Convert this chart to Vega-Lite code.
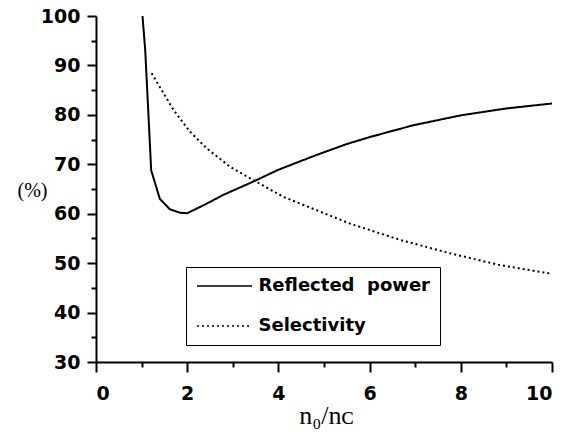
{
  "$schema": "https://vega.github.io/schema/vega-lite/v6.json",
  "autosize": {"type": "none"},
  "width": 456,
  "height": 346,
  "padding": {"left": 96, "top": 16, "right": 23, "bottom": 72},
  "background": "white",
  "config": {
    "view": {"stroke": null},
    "axis": {
      "domainColor": "black", "domainWidth": 2, "tickColor": "black", "tickWidth": 2,
      "labelColor": "black", "labelFont": "DejaVu Sans", "labelFontWeight": "bold", "labelFontSize": 19,
      "grid": false, "titleColor": "black"
    }
  },
  "data": {"values": [
    {"r": 1.02, "v": 100, "s": "Reflected  power"},
    {"r": 1.08, "v": 93, "s": "Reflected  power"},
    {"r": 1.15, "v": 80, "s": "Reflected  power"},
    {"r": 1.21, "v": 68.8, "s": "Reflected  power"},
    {"r": 1.4, "v": 63.0, "s": "Reflected  power"},
    {"r": 1.62, "v": 60.9, "s": "Reflected  power"},
    {"r": 1.84, "v": 60.2, "s": "Reflected  power"},
    {"r": 2.0, "v": 60.1, "s": "Reflected  power"},
    {"r": 2.4, "v": 61.9, "s": "Reflected  power"},
    {"r": 2.79, "v": 63.8, "s": "Reflected  power"},
    {"r": 3.45, "v": 66.5, "s": "Reflected  power"},
    {"r": 4.0, "v": 68.9, "s": "Reflected  power"},
    {"r": 4.84, "v": 71.9, "s": "Reflected  power"},
    {"r": 5.5, "v": 74.1, "s": "Reflected  power"},
    {"r": 6.0, "v": 75.5, "s": "Reflected  power"},
    {"r": 6.96, "v": 77.9, "s": "Reflected  power"},
    {"r": 8.0, "v": 79.9, "s": "Reflected  power"},
    {"r": 9.0, "v": 81.3, "s": "Reflected  power"},
    {"r": 10.0, "v": 82.3, "s": "Reflected  power"},
    {"r": 1.22, "v": 88.4, "s": "Selectivity"},
    {"r": 1.7, "v": 81.0, "s": "Selectivity"},
    {"r": 2.06, "v": 76.6, "s": "Selectivity"},
    {"r": 2.43, "v": 73.2, "s": "Selectivity"},
    {"r": 2.94, "v": 69.5, "s": "Selectivity"},
    {"r": 3.45, "v": 66.8, "s": "Selectivity"},
    {"r": 4.11, "v": 63.4, "s": "Selectivity"},
    {"r": 4.84, "v": 60.7, "s": "Selectivity"},
    {"r": 5.57, "v": 58.0, "s": "Selectivity"},
    {"r": 6.67, "v": 54.7, "s": "Selectivity"},
    {"r": 7.76, "v": 52.0, "s": "Selectivity"},
    {"r": 8.86, "v": 49.6, "s": "Selectivity"},
    {"r": 9.96, "v": 47.9, "s": "Selectivity"}
  ]},
  "layer": [
    {
      "mark": {"type": "line", "color": "black", "strokeWidth": 2},
      "encoding": {
        "x": {"field": "r", "type": "quantitative", "scale": {"domain": [0, 10], "nice": false, "zero": false},
          "axis": {"orient": "bottom", "values": [0, 2, 4, 6, 8, 10], "tickSize": 10, "labelPadding": 12,
            "title": "n₀/nᴄ", "titleFont": "Liberation Serif", "titleFontSize": 26, "titleFontWeight": "normal",
            "titleX": 230, "titleY": 61, "titleAlign": "center", "titleBaseline": "alphabetic"}},
        "y": {"field": "v", "type": "quantitative", "scale": {"domain": [30, 100], "nice": false, "zero": false},
          "axis": {"orient": "left", "values": [30, 40, 50, 60, 70, 80, 90, 100], "tickSize": 9, "labelPadding": 7,
            "title": "(%)", "titleFont": "Liberation Serif", "titleFontSize": 20, "titleFontWeight": "normal",
            "titleAngle": 0, "titleX": -64, "titleY": 174, "titleAlign": "center", "titleBaseline": "middle"}},
        "strokeDash": {"field": "s", "type": "nominal",
          "scale": {"domain": ["Reflected  power", "Selectivity"], "range": [[1, 0], [2, 3]]},
          "legend": {"title": null, "orient": "none", "legendX": 90, "legendY": 251,
            "symbolType": "M-5.5,0H5.5", "symbolSize": 100, "symbolOffset": 19.5, "symbolStrokeColor": "black", "symbolStrokeWidth": 1.5,
            "labelFont": "DejaVu Sans", "labelFontWeight": "bold", "labelFontSize": 18, "labelColor": "black",
            "labelOffset": 25, "rowPadding": 22, "padding": 10, "strokeColor": "black", "labelLimit": 300,
            "labelExpr": "replace(datum.label, '  ', '\u00a0\u00a0')"}}
      }
    },
    {
      "mark": {"type": "line", "opacity": 0},
      "encoding": {
        "x": {"field": "r", "type": "quantitative", "scale": {"domain": [0, 10], "nice": false, "zero": false},
          "axis": {"orient": "bottom", "values": [1, 3, 5, 7, 9], "tickSize": 5, "labels": false, "domain": false, "title": null}},
        "y": {"field": "v", "type": "quantitative", "scale": {"domain": [30, 100], "nice": false, "zero": false},
          "axis": {"orient": "left", "values": [35, 45, 55, 65, 75, 85, 95], "tickSize": 5, "labels": false, "domain": false, "title": null}},
        "detail": {"field": "s", "type": "nominal"}
      }
    }
  ],
  "resolve": {"axis": {"x": "independent", "y": "independent"}}
}
